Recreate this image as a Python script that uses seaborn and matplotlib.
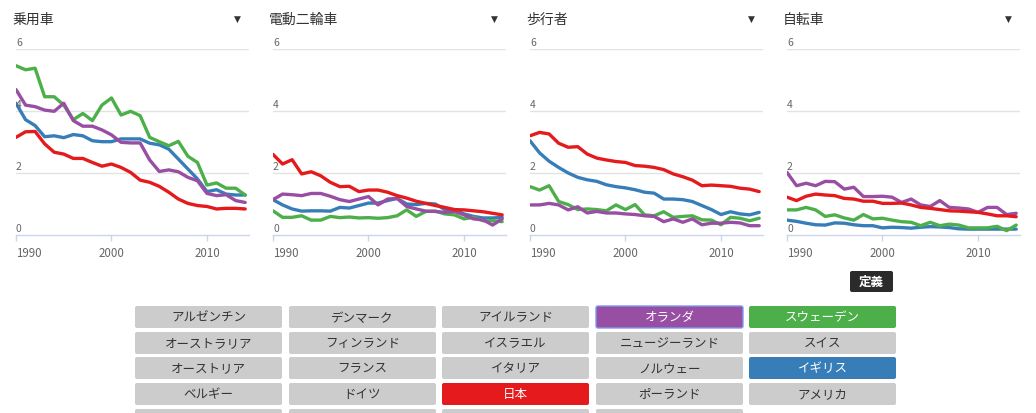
import pandas as pd
import seaborn as sns
import matplotlib.pyplot as plt
import matplotlib.transforms as mtransforms
from matplotlib.patches import FancyBboxPatch

years = list(range(1990, 2015))

# 乗用車
car_jp = [3.15, 3.33, 3.34, 2.94, 2.67, 2.61, 2.47, 2.47, 2.34, 2.22, 2.29, 2.18, 2.02,
          1.77, 1.70, 1.57, 1.38, 1.16, 1.02, 0.95, 0.92, 0.84, 0.86, 0.86, 0.84]
car_gb = [4.25, 3.72, 3.53, 3.17, 3.20, 3.14, 3.24, 3.20, 3.04, 3.01, 3.01, 3.10, 3.10,
          3.10, 2.96, 2.91, 2.77, 2.45, 2.13, 1.81, 1.40, 1.46, 1.32, 1.29, 1.29]
car_se = [5.46, 5.33, 5.38, 4.46, 4.46, 4.19, 3.72, 3.92, 3.69, 4.19, 4.42, 3.87, 3.99,
          3.85, 3.15, 3.01, 2.88, 3.02, 2.54, 2.34, 1.61, 1.68, 1.51, 1.51, 1.29]
car_nl = [4.69, 4.19, 4.14, 4.03, 3.99, 4.25, 3.69, 3.51, 3.51, 3.39, 3.23, 2.99, 2.97,
          2.97, 2.42, 2.05, 2.10, 2.04, 1.86, 1.75, 1.34, 1.27, 1.30, 1.11, 1.05]

# 電動二輪車
moto_jp = [2.60, 2.29, 2.43, 1.97, 2.04, 1.91, 1.70, 1.56, 1.57, 1.40, 1.45, 1.45, 1.38,
           1.27, 1.19, 1.09, 1.02, 0.95, 0.89, 0.82, 0.81, 0.78, 0.75, 0.70, 0.65]
moto_gb = [1.14, 0.97, 0.84, 0.77, 0.78, 0.78, 0.77, 0.89, 0.87, 0.95, 1.03, 1.03, 1.11,
           1.18, 1.00, 0.98, 1.02, 1.00, 0.82, 0.82, 0.68, 0.60, 0.55, 0.55, 0.57]
moto_se = [0.78, 0.57, 0.57, 0.62, 0.48, 0.48, 0.60, 0.56, 0.58, 0.55, 0.56, 0.54, 0.56,
           0.62, 0.81, 0.60, 0.76, 0.77, 0.68, 0.65, 0.52, 0.57, 0.46, 0.46, 0.43]
moto_nl = [1.14, 1.32, 1.30, 1.27, 1.34, 1.34, 1.25, 1.14, 1.08, 1.16, 1.24, 0.97, 1.16,
           1.18, 0.92, 0.84, 0.77, 0.76, 0.73, 0.76, 0.65, 0.52, 0.49, 0.32, 0.52]

# 歩行者
ped_jp = [3.20, 3.31, 3.26, 2.96, 2.83, 2.85, 2.61, 2.48, 2.42, 2.37, 2.34, 2.24, 2.22,
          2.18, 2.11, 1.97, 1.88, 1.77, 1.59, 1.61, 1.59, 1.57, 1.51, 1.48, 1.40]
ped_gb = [3.04, 2.65, 2.38, 2.18, 2.00, 1.86, 1.78, 1.73, 1.62, 1.56, 1.52, 1.46, 1.38,
          1.35, 1.16, 1.16, 1.14, 1.08, 0.95, 0.82, 0.66, 0.75, 0.68, 0.65, 0.73]
ped_se = [1.56, 1.45, 1.59, 1.08, 0.98, 0.82, 0.84, 0.82, 0.78, 0.97, 0.82, 0.98, 0.65,
          0.62, 0.75, 0.57, 0.60, 0.62, 0.49, 0.48, 0.33, 0.57, 0.54, 0.46, 0.54]
ped_nl = [0.97, 0.97, 1.02, 0.97, 0.81, 0.91, 0.71, 0.76, 0.71, 0.71, 0.68, 0.66, 0.62,
          0.60, 0.43, 0.52, 0.41, 0.52, 0.33, 0.38, 0.38, 0.41, 0.39, 0.30, 0.30]

# 自転車
bike_jp = [1.22, 1.11, 1.25, 1.32, 1.29, 1.27, 1.18, 1.16, 1.09, 1.09, 1.02, 1.02, 1.03,
           0.97, 0.89, 0.86, 0.82, 0.78, 0.77, 0.75, 0.73, 0.68, 0.62, 0.62, 0.59]
bike_gb = [0.48, 0.44, 0.38, 0.33, 0.32, 0.39, 0.38, 0.33, 0.30, 0.30, 0.23, 0.25, 0.24,
           0.22, 0.25, 0.27, 0.26, 0.24, 0.20, 0.19, 0.19, 0.19, 0.19, 0.19, 0.19]
bike_se = [0.81, 0.81, 0.89, 0.81, 0.60, 0.65, 0.55, 0.48, 0.66, 0.52, 0.54, 0.48, 0.43,
           0.41, 0.30, 0.41, 0.30, 0.35, 0.32, 0.23, 0.23, 0.23, 0.28, 0.14, 0.32]
bike_nl = [2.02, 1.59, 1.67, 1.59, 1.73, 1.72, 1.48, 1.54, 1.24, 1.24, 1.25, 1.22, 1.05,
           1.16, 0.97, 0.92, 1.11, 0.89, 0.87, 0.84, 0.73, 0.89, 0.89, 0.66, 0.70]

modes = ["乗用車", "電動二輪車", "歩行者", "自転車"]
countries = ["イギリス", "スウェーデン", "オランダ", "日本"]
colors = {"日本": "#e41a1c", "イギリス": "#377eb8",
          "スウェーデン": "#4daf4a", "オランダ": "#984ea3"}

series = {
    "乗用車": [car_gb, car_se, car_nl, car_jp],
    "電動二輪車": [moto_gb, moto_se, moto_nl, moto_jp],
    "歩行者": [ped_gb, ped_se, ped_nl, ped_jp],
    "自転車": [bike_gb, bike_se, bike_nl, bike_jp],
}

rows = []
for m in modes:
    for c, vals in zip(countries, series[m]):
        for y, v in zip(years, vals):
            rows.append({"mode": m, "country": c, "year": y, "value": v})
df = pd.DataFrame(rows)

# country buttons (column by column)
button_cols = [
    ["アルゼンチン", "オーストラリア", "オーストリア", "ベルギー", ""],
    ["デンマーク", "フィンランド", "フランス", "ドイツ", ""],
    ["アイルランド", "イスラエル", "イタリア", "日本", ""],
    ["オランダ", "ニュージーランド", "ノルウェー", "ポーランド", ""],
    ["スウェーデン", "スイス", "イギリス", "アメリカ"],
]

sns.set_theme(style="white")
plt.rcParams["font.family"] = ["Noto Sans CJK JP", "DejaVu Sans"]

W, H = 1036, 414
fig = plt.figure(figsize=(W / 100, H / 100), dpi=100)

# background layer for buttons, in pixel coordinates
bax = fig.add_axes([0, 0, 1, 1])
bax.set_xlim(0, W)
bax.set_ylim(H, 0)
bax.axis("off")

for i, m in enumerate(modes):
    left = 16 + i * 257
    ax = fig.add_axes([left / W, (H - 236) / H, 233 / W, 186 / H])
    ax.patch.set_alpha(0)
    sub = df[df["mode"] == m]
    sns.lineplot(data=sub, x="year", y="value", hue="country", hue_order=countries,
                 palette=colors, linewidth=2.4, legend=False, ax=ax)
    ax.set_xlim(1990, 2014.4)
    ax.set_ylim(0, 6)
    for v in [2, 4, 6]:
        ax.axhline(v, color="#e3e3e3", lw=1, zorder=0)
    for s in ["top", "right", "left"]:
        ax.spines[s].set_visible(False)
    ax.spines["bottom"].set_color("#ccd6eb")
    ax.spines["bottom"].set_linewidth(1)
    ax.set_yticks([])
    ax.set_xticks([1990, 2000, 2010], ["1990", "2000", "2010"])
    ax.tick_params(axis="x", direction="out", length=4, width=1, color="#ccd6eb",
                   labelsize=8.3, labelcolor="#666666", pad=4, bottom=True)
    ax.get_xticklabels()[0].set_ha("left")
    ax.set_xlabel("")
    ax.set_ylabel("")
    trans = mtransforms.offset_copy(
        mtransforms.blended_transform_factory(ax.transAxes, ax.transData),
        fig=fig, x=0, y=2, units="dots")
    for v in [0, 2, 4, 6]:
        ax.text(0, v, str(v), transform=trans, ha="left", va="bottom",
                fontsize=7.5, color="#666666")
    fig.text((left - 4) / W, 1 - 20 / H, m, ha="left", va="center",
             fontsize=10, color="#333333")
    fig.text((left + 221) / W, 1 - 19 / H, "▼", ha="center", va="center",
             fontsize=6.5, color="#333333", family=["DejaVu Sans"])

# 定義 button
bax.add_patch(FancyBboxPatch((850, 272), 43, 21, boxstyle="round,pad=0,rounding_size=2",
                             facecolor="#2b2b2b", edgecolor="none"))
bax.text(871.5, 282.5, "定義", ha="center", va="center", fontsize=9,
         color="white", weight="bold")

col_x = [135, 289, 442, 596, 749]
row_y = [307, 333, 358, 384, 410]
for cx, names in zip(col_x, button_cols):
    for ry, name in zip(row_y, names):
        fc = colors.get(name, "#cccccc")
        ec = "#7d9bf0" if name == "オランダ" else "none"
        bax.add_patch(FancyBboxPatch((cx, ry), 147, 22,
                                     boxstyle="round,pad=0,rounding_size=2",
                                     facecolor=fc, edgecolor=ec, lw=1))
        if name:
            tc = "white" if name in colors else "#333333"
            bax.text(cx + 73.5, ry + 11, name, ha="center", va="center",
                     fontsize=9, color=tc)

fig.savefig("out.png", dpi=100)
